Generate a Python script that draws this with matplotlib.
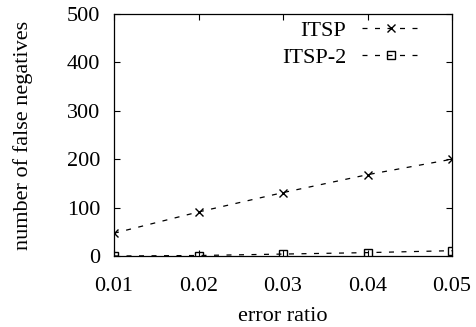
import matplotlib
matplotlib.use("Agg")
import matplotlib.pyplot as plt

plt.rcParams['font.family'] = ['Liberation Serif', 'DejaVu Serif']
plt.rcParams['font.size'] = 16

error_ratio = [0.01, 0.02, 0.03, 0.04, 0.05]
itsp = [47, 91, 131, 168, 200]
itsp2 = [0, 1, 4, 7, 11]

fig = plt.figure(figsize=(4.76, 3.27), dpi=100)
ax = fig.add_axes([114/476, 1-256/327, (452-114)/476, (256-14)/327])

dash = (0, (4, 6))
ax.plot(error_ratio, itsp, color='black', linestyle=dash, linewidth=0.9,
        marker='x', markersize=5.5, markeredgewidth=1.0, label='ITSP')
ax.plot(error_ratio, itsp2, color='black', linestyle=dash, linewidth=0.9,
        marker='s', markersize=5.5, markerfacecolor='none', markeredgewidth=1.0, label='ITSP-2')

ax.set_xlim(0.01, 0.05)
ax.set_ylim(0, 500)
ax.set_xticks(error_ratio)
ax.set_xticklabels(['0.01', '0.02', '0.03', '0.04', '0.05'])
ax.set_yticks([0, 100, 200, 300, 400, 500])
ax.tick_params(direction='in', top=True, right=True, length=4, width=0.8)
ax.tick_params(axis='y', pad=10)
ax.tick_params(axis='x', pad=15)
for s in ax.spines.values():
    s.set_linewidth(0.9)

ax.set_xlabel('error ratio', labelpad=8)
ax.set_ylabel('number of false negatives', labelpad=24)

ax.legend(loc='upper right', bbox_to_anchor=(0.93, 1.01), frameon=False, markerfirst=False,
          handlelength=2.6, borderaxespad=0, labelspacing=0.3, handletextpad=0.7)

fig.savefig('out.png', dpi=100)
